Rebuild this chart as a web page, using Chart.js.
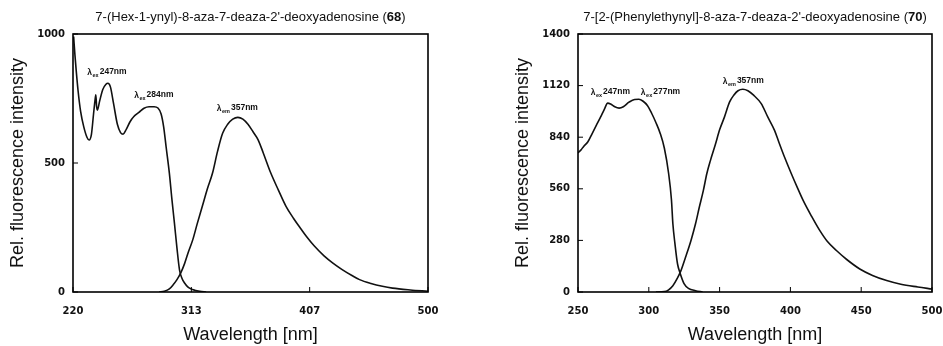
<!DOCTYPE html>
<html>
<head>
<meta charset="utf-8">
<script src="https://cdn.jsdelivr.net/npm/chart.js@4.4.1/dist/chart.umd.min.js"></script>
<style>
  body { margin: 0; background: #fff; }
  #wrap { position: relative; width: 943px; height: 346px; }
  .box { position: absolute; top: 0; height: 346px; }
</style>
</head>
<body>
<div id="wrap">
  <div class="box" style="left:0;width:470px"><canvas id="chartLeft"></canvas></div>
  <div class="box" style="left:470px;width:473px"><canvas id="chartRight"></canvas></div>
</div>
<script>
// --- left panel: compound 68 ---
const leftTitle = ["7-(Hex-1-ynyl)-8-aza-7-deaza-2'-deoxyadenosine (", "68", ")"];
const leftExWl  = [220.5, 221.5, 222.5, 224, 226, 228.5, 231, 232.7, 234.5, 236.2, 237.3, 238, 238.6, 239.2, 241, 243.5, 246, 247.5, 249.5, 252, 255, 257.5, 259.5, 262, 265, 268, 272, 276, 280, 284, 287, 289.5, 291.5, 293.5, 296, 298, 300, 302, 304, 306, 308, 310.5, 313, 316, 320, 325];
const leftExVal = [990, 920, 860, 780, 700, 640, 600, 589, 610, 690, 740, 764, 720, 705, 740, 785, 805, 809, 795, 730, 650, 618, 612, 630, 660, 680, 696, 712, 718, 718, 713, 690, 640, 560, 461, 360, 267, 170, 86, 52, 35, 20, 12, 7, 3, 0];
const leftEmWl  = [288, 292, 296, 299, 302, 305, 308, 311, 314.5, 318, 322, 326, 330, 334, 338, 342, 346, 350, 354, 358, 362, 366, 370, 376, 382, 388, 394, 400, 404, 410, 418, 425, 432, 440, 446, 455, 464, 472, 486, 500];
const leftEmVal = [0, 3, 12, 28, 48, 74, 110, 155, 203, 265, 332, 400, 460, 545, 615, 650, 670, 677, 670, 650, 621, 590, 540, 461, 395, 332, 285, 243, 216, 180, 140, 112, 88, 64, 48, 33, 22, 15, 8, 3];
const leftXTicks  = [220, 313.333, 406.667, 500];
const leftXLabels = ['220', '313', '407', '500'];
const leftPeakWl   = [231.3, 268.3, 333.4];
const leftPeakVal  = [841, 751, 703];
const leftPeakSub  = ['ex', 'ex', 'em'];
const leftPeakText = ['247nm', '284nm', '357nm'];

// --- right panel: compound 70 ---
const rightTitle = ["7-[2-(Phenylethynyl]-8-aza-7-deaza-2'-deoxyadenosine (", "70", ")"];
const rightExWl  = [250, 252, 254, 257, 260, 263, 266, 268.5, 271, 273, 276, 279, 282, 286, 290, 293, 296, 299, 302, 305, 308, 311, 314, 316, 317, 318.5, 320.3, 322, 325, 328, 333, 338];
const rightExVal = [755, 770, 790, 815, 860, 905, 950, 990, 1025, 1020, 1005, 998, 1005, 1030, 1045, 1046, 1035, 1012, 970, 920, 862, 780, 643, 500, 370, 260, 152, 105, 44, 20, 7, 0];
const rightEmWl  = [305, 311, 314, 317, 320, 322.7, 326, 329.8, 333, 335.7, 338.5, 341, 343.5, 347, 350, 353.4, 357, 360, 363, 366.4, 370, 374, 379.4, 384, 388.8, 392, 395.9, 400.6, 405, 409, 415, 420.7, 426, 432.5, 440, 449, 458, 468, 478, 490, 500];
const rightEmVal = [0, 2, 12, 34, 72, 116, 190, 280, 370, 461, 550, 643, 713, 800, 880, 949, 1030, 1068, 1092, 1100, 1092, 1068, 1022, 950, 877, 810, 731, 643, 565, 497, 410, 334, 275, 225, 175, 125, 90, 62, 42, 27, 16];
const rightXTicks  = [250, 300, 350, 400, 450, 500];
const rightXLabels = ['250', '300', '350', '400', '450', '500'];
const rightPeakWl   = [259, 294.4, 352.2];
const rightPeakVal  = [1068, 1068, 1131];
const rightPeakSub  = ['ex', 'ex', 'em'];
const rightPeakText = ['247nm', '277nm', '357nm'];

const SANS = '"Liberation Sans", Arial, sans-serif';

function pairs(xs, ys) {
  return xs.map((v, i) => ({ x: v, y: ys[i] }));
}

// frame, inner ticks, title and peak labels
const decorPlugin = {
  id: 'decor',
  afterDraw(chart, args, opts) {
    const { ctx, chartArea: a } = chart;
    const x = chart.scales.x, y = chart.scales.y;
    ctx.save();
    ctx.strokeStyle = '#000';
    ctx.lineWidth = 1.6;
    ctx.strokeRect(a.left, a.top, a.right - a.left, a.bottom - a.top);

    ctx.lineWidth = 1;
    x.ticks.forEach((t, i) => {
      const px = x.getPixelForTick(i);
      ctx.beginPath(); ctx.moveTo(px, a.bottom); ctx.lineTo(px, a.bottom - 5); ctx.stroke();
    });
    y.ticks.forEach((t, i) => {
      const py = y.getPixelForTick(i);
      ctx.beginPath(); ctx.moveTo(a.left, py); ctx.lineTo(a.left + 5, py); ctx.stroke();
    });

    // title with bold compound number
    ctx.fillStyle = '#111';
    ctx.textBaseline = 'middle';
    ctx.textAlign = 'left';
    const fonts = ['13px ' + SANS, 'bold 13px ' + SANS, '13px ' + SANS];
    let total = 0;
    opts.title.forEach((s, i) => { ctx.font = fonts[i]; total += ctx.measureText(s).width; });
    let tx = (a.left + a.right) / 2 - total / 2;
    opts.title.forEach((s, i) => { ctx.font = fonts[i]; ctx.fillText(s, tx, 17); tx += ctx.measureText(s).width; });

    // peak labels
    ctx.textBaseline = 'alphabetic';
    opts.wl.forEach((w, i) => {
      let px = x.getPixelForValue(w);
      const py = y.getPixelForValue(opts.val[i]);
      ctx.font = 'bold 8.5px ' + SANS;
      ctx.fillText('\u03bb', px, py);
      px += ctx.measureText('\u03bb').width + 0.5;
      ctx.font = 'bold 5.5px ' + SANS;
      ctx.fillText(opts.sub[i], px, py + 2);
      px += ctx.measureText(opts.sub[i]).width + 1;
      ctx.font = 'bold 8.5px ' + SANS;
      ctx.fillText(opts.text[i], px, py - 1);
    });
    ctx.restore();
  }
};

function makeConfig(p) {
  const lineStyle = { borderColor: '#111', borderWidth: 1.6, pointRadius: 0, fill: false, tension: 0.4, cubicInterpolationMode: 'monotone' };
  return {
    type: 'line',
    data: {
      datasets: [
        Object.assign({ label: 'Excitation', data: pairs(p.exWl, p.exVal) }, lineStyle),
        Object.assign({ label: 'Emission', data: pairs(p.emWl, p.emVal) }, lineStyle)
      ]
    },
    options: {
      responsive: true,
      maintainAspectRatio: false,
      animation: false,
      layout: { padding: { left: p.padLeft, right: p.padRight, top: 34, bottom: 0 } },
      plugins: {
        legend: { display: false },
        tooltip: { enabled: false },
        decor: { title: p.title, wl: p.peakWl, val: p.peakVal, sub: p.peakSub, text: p.peakText }
      },
      scales: {
        x: {
          type: 'linear',
          min: p.xMin, max: p.xMax,
          grid: { display: false, drawTicks: false },
          border: { display: false },
          afterBuildTicks: s => { s.ticks = p.xTicks.map(v => ({ value: v })); },
          afterFit: s => { s.height = 54; s.paddingLeft = 0; s.paddingRight = 0; },
          ticks: {
            color: '#111', padding: 13, maxRotation: 0,
            font: { family: '"DejaVu Sans"', size: 10, weight: 'bold' },
            callback: (v, i) => p.xLabels[i]
          },
          title: { display: true, text: 'Wavelength [nm]', color: '#111', padding: { top: 0, bottom: 0 }, font: { family: SANS, size: 18 } }
        },
        y: {
          min: 0, max: p.yMax,
          grid: { display: false, drawTicks: false },
          border: { display: false },
          afterFit: s => { s.width = 70; },
          ticks: {
            color: '#111', padding: 8, stepSize: p.yStep,
            font: { family: '"DejaVu Sans"', size: 10, weight: 'bold' },
            callback: v => String(v)
          },
          title: { display: true, text: 'Rel. fluorescence intensity', color: '#111', font: { family: SANS, size: 18 } }
        }
      }
    },
    plugins: [decorPlugin]
  };
}

new Chart(document.getElementById('chartLeft'), makeConfig({
  title: leftTitle, exWl: leftExWl, exVal: leftExVal, emWl: leftEmWl, emVal: leftEmVal,
  xTicks: leftXTicks, xLabels: leftXLabels, xMin: 220, xMax: 500, yMax: 1000, yStep: 500,
  peakWl: leftPeakWl, peakVal: leftPeakVal, peakSub: leftPeakSub, peakText: leftPeakText,
  padLeft: 3, padRight: 42
}));

new Chart(document.getElementById('chartRight'), makeConfig({
  title: rightTitle, exWl: rightExWl, exVal: rightExVal, emWl: rightEmWl, emVal: rightEmVal,
  xTicks: rightXTicks, xLabels: rightXLabels, xMin: 250, xMax: 500, yMax: 1400, yStep: 280,
  peakWl: rightPeakWl, peakVal: rightPeakVal, peakSub: rightPeakSub, peakText: rightPeakText,
  padLeft: 38, padRight: 11
}));
</script>
</body>
</html>
